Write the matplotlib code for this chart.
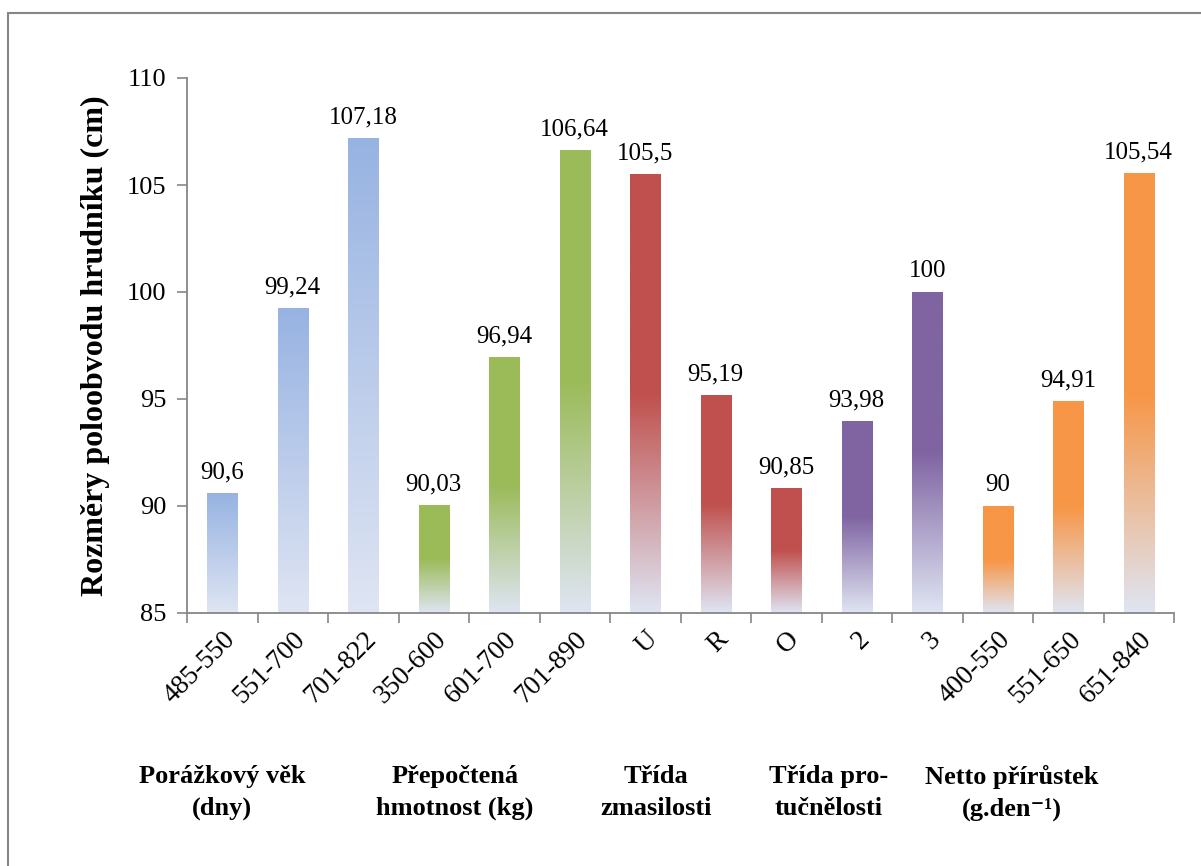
import numpy as np
import matplotlib
matplotlib.use("Agg")
import matplotlib.pyplot as plt
from matplotlib.colors import to_rgb
from matplotlib.patches import Rectangle
from matplotlib.transforms import blended_transform_factory

# ---- data ----
categories = ["485-550", "551-700", "701-822", "350-600", "601-700", "701-890",
              "U", "R", "O", "2", "3", "400-550", "551-650", "651-840"]
values = [90.6, 99.24, 107.18, 90.03, 96.94, 106.64,
          105.5, 95.19, 90.85, 93.98, 100, 90, 94.91, 105.54]
value_labels = ["90,6", "99,24", "107,18", "90,03", "96,94", "106,64",
                "105,5", "95,19", "90,85", "93,98", "100", "90", "94,91", "105,54"]
bar_colors = ["#97b3e2"] * 3 + ["#9bbb59"] * 3 + ["#c0504d"] * 3 + ["#8064a2"] * 2 + ["#f79646"] * 3
group_labels = ["Porážkový věk\n(dny)", "Přepočtená\nhmotnost (kg)", "Třída\nzmasilosti",
                "Třída pro-\ntučnělosti", "Netto přírůstek\n(g.den⁻¹)"]
group_label_x = [0.0, 3.3, 6.15, 8.6, 11.2]
y_ticks = [85, 90, 95, 100, 105, 110]
y_min, y_max = 85, 110
fade_color = "#dfe5f3"

plt.rcParams["font.family"] = ["Liberation Serif", "DejaVu Serif"]

fig = plt.figure(figsize=(12.01, 8.66), dpi=100)
ax = fig.add_axes([187 / 1201, 1 - 613 / 866, (1174 - 187) / 1201, (613 - 78) / 866])

x = np.arange(len(categories))
bars = ax.bar(x, [v - y_min for v in values], bottom=y_min, width=0.43,
              color="none", edgecolor="none")

n = 256
t = np.linspace(0, 1, n)[:, None]  # 0 = bottom, 1 = top
fade = np.array(to_rgb(fade_color))
for i, (b, c) in enumerate(zip(bars, bar_colors)):
    col = np.array(to_rgb(c))
    if i < 3:
        w = t  # linear full gradient for blue bars
    else:
        w = np.clip(t / 0.5, 0, 1)
    img = fade[None, :] * (1 - w) + col[None, :] * w
    img = np.repeat(img[:, None, :], 2, axis=1)
    bx, by = b.get_x(), b.get_y()
    im = ax.imshow(img, extent=[bx, bx + b.get_width(), by, by + b.get_height()],
                   origin="lower", aspect="auto", interpolation="bilinear", zorder=2)
    im.set_clip_path(b)

for b, lab in zip(bars, value_labels):
    ax.annotate(lab, (b.get_x() + b.get_width() / 2, b.get_y() + b.get_height()),
                xytext=(0, 7), textcoords="offset points", ha="center", va="bottom",
                fontsize=18)

ax.set_xlim(-0.5, len(categories) - 0.5)
ax.set_ylim(y_min, y_max)
ax.set_yticks(y_ticks)
ax.set_yticklabels([str(v) for v in y_ticks], fontsize=19)
ax.set_xticks(np.arange(len(categories) + 1) - 0.5)
ax.set_xticklabels([])
ax.set_xticks(x, minor=True)
ax.set_xticklabels(categories, minor=True, rotation=45, ha="right", va="top",
                   rotation_mode="anchor", fontsize=19.5)
ax.tick_params(axis="x", which="minor", length=0, pad=10)
ax.tick_params(axis="x", which="major", length=7, width=1.2, color="#868686", direction="out")
ax.tick_params(axis="y", length=7, width=1.2, color="#868686", direction="out", pad=8)

for s in ["top", "right"]:
    ax.spines[s].set_visible(False)
for s in ["left", "bottom"]:
    ax.spines[s].set_color("#868686")
    ax.spines[s].set_linewidth(1.3)

ax.set_ylabel("Rozměry poloobvodu hrudníku (cm)", fontsize=23, fontweight="bold", labelpad=12)

trans = blended_transform_factory(ax.transData, fig.transFigure)
for gx, gl in zip(group_label_x, group_labels):
    ax.text(gx, 1 - 765 / 866, gl, transform=trans, ha="center", va="top",
            fontsize=19, fontweight="bold", linespacing=1.5)

fig.patches.append(Rectangle((8 / 1201, -0.1), 1.2, 1.1 - 13 / 866, transform=fig.transFigure,
                             fill=False, edgecolor="#868686", linewidth=1.5))

fig.savefig("out.png", dpi=100)
